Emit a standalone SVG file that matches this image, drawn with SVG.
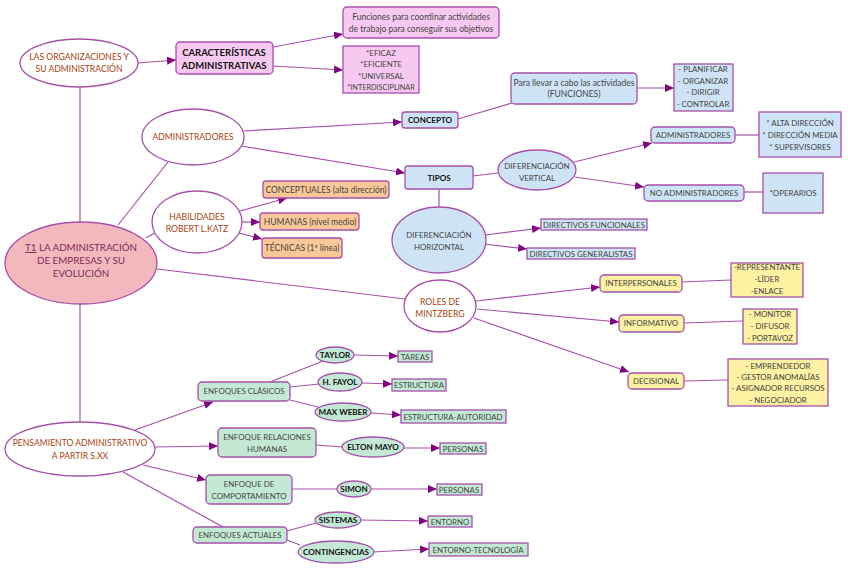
<svg xmlns="http://www.w3.org/2000/svg" width="848" height="575" viewBox="0 0 848 575">
<defs>
<marker id="ah" markerUnits="userSpaceOnUse" markerWidth="9" markerHeight="8" refX="9" refY="4" orient="auto">
<path d="M0,0 L9,4 L0,8 z" fill="#80067f"/>
</marker>
<style>
.ln{stroke:#a650aa;stroke-width:1.2;fill:none}
.ar{marker-end:url(#ah)}
.nb{stroke:#a650aa;stroke-width:1.3}
.pink{fill:#f8c9f0}.blue{fill:#cfe3f6}.org{fill:#fac898}.yel{fill:#fdf1a3}.grn{fill:#c3e9d5}.wht{fill:#fff}.t1f{fill:#f3b8bd}
text{font-family:Lato,"Open Sans","Liberation Sans",sans-serif;font-size:7.9px;fill:#444;text-anchor:middle}
.lc{font-size:8.5px}
.sm{font-size:7.3px}
.br{fill:#a8420f;font-size:8.6px}
.bd{font-weight:bold;fill:#111;font-size:8.1px}
.big{font-weight:bold;fill:#111;font-size:9.5px}
.t1t{fill:#7b2d5b;font-size:9.8px}
</style>
</defs>
<rect width="848" height="575" fill="#fff"/>
<g id="connectors">
<path class="ln ar" d="M138,63 L176,60"/>
<path class="ln ar" d="M273,47 L343,34"/>
<path class="ln ar" d="M273,66 L343,70"/>
<path class="ln" d="M80,87 L80,222"/>
<path class="ln" d="M80,304 L80,422"/>
<path class="ln" d="M118,225 L168,162"/>
<path class="ln" d="M146,238 L155,233"/>
<path class="ln" d="M157,269 L405,299"/>
<path class="ln ar" d="M244,131 L402,122"/>
<path class="ln ar" d="M241,146 L405,173"/>
<path class="ln ar" d="M240,211 L287,198"/>
<path class="ln ar" d="M242,222 L260,222"/>
<path class="ln ar" d="M239,233 L262,239"/>
<path class="ln" d="M458,119 L512,103"/>
<path class="ln ar" d="M637,88 L674,88"/>
<path class="ln" d="M473,176 L498,173"/>
<path class="ln" d="M439,189 L439,207"/>
<path class="ln ar" d="M574,162 L652,143"/>
<path class="ln ar" d="M575,177 L644,187"/>
<path class="ln" d="M735,135 L759,135"/>
<path class="ln" d="M744,192 L763,192"/>
<path class="ln ar" d="M485,235 L541,228"/>
<path class="ln ar" d="M484,244 L527,249"/>
<path class="ln ar" d="M476,301 L600,287"/>
<path class="ln ar" d="M477,309 L619,322"/>
<path class="ln ar" d="M474,318 L629,372"/>
<path class="ln" d="M682,282 L731,280"/>
<path class="ln" d="M684,323 L743,321"/>
<path class="ln" d="M684,381 L728,380"/>
<path class="ln ar" d="M135,430 L213,402"/>
<path class="ln ar" d="M155,447 L218,446"/>
<path class="ln ar" d="M143,465 L206,480"/>
<path class="ln" d="M123,472 L223,527"/>
<path class="ln" d="M270,382 L323,361"/>
<path class="ln" d="M290,387 L319,384"/>
<path class="ln" d="M290,400 L318,407"/>
<path class="ln ar" d="M354,355 L398,356"/>
<path class="ln ar" d="M362,383 L392,384"/>
<path class="ln ar" d="M371,413 L401,415"/>
<path class="ln" d="M316,445 L342,447"/>
<path class="ln ar" d="M404,448 L440,448"/>
<path class="ln" d="M292,489 L337,489"/>
<path class="ln ar" d="M371,489 L437,489"/>
<path class="ln" d="M287,531 L316,523"/>
<path class="ln" d="M287,540 L300,545"/>
<path class="ln ar" d="M361,520 L428,521"/>
<path class="ln ar" d="M373,552 L429,549"/>
</g>
<g id="n-organizaciones"><ellipse class="nb wht" cx="79" cy="63" rx="59" ry="24"/><text class="br" x="79" y="60">LAS ORGANIZACIONES Y</text><text class="br" x="79" y="72">SU ADMINISTRACIÓN</text></g>
<g id="n-caracteristicas"><rect class="nb pink" x="176" y="42" width="97" height="32" rx="4"/><text class="big" x="224" y="56">CARACTERÍSTICAS</text><text class="big" x="224" y="69">ADMINISTRATIVAS</text></g>
<g id="n-funciones"><rect class="nb pink" x="343" y="7" width="156" height="31" rx="4"/><text class="lc" x="421" y="20">Funciones para coordinar actividades</text><text class="lc" x="421" y="32">de trabajo para conseguir sus objetivos</text></g>
<g id="n-eficaz"><rect class="nb pink" x="343" y="46" width="76" height="47"/><text x="381" y="56">*EFICAZ</text><text x="381" y="67">*EFICIENTE</text><text x="381" y="79">*UNIVERSAL</text><text class="sm" x="381" y="90">*INTERDISCIPLINAR</text></g>
<g id="n-t1"><ellipse class="nb t1f" cx="81" cy="263" rx="76" ry="41"/><text class="t1t" x="81" y="251"><tspan text-decoration="underline">T1</tspan> LA ADMINISTRACIÓN</text><text class="t1t" x="81" y="264">DE EMPRESAS Y SU</text><text class="t1t" x="81" y="277">EVOLUCIÓN</text></g>
<g id="n-administradores"><ellipse class="nb wht" cx="193" cy="137" rx="51" ry="28"/><text class="br" x="193" y="140">ADMINISTRADORES</text></g>
<g id="n-habilidades"><ellipse class="nb wht" cx="197" cy="222" rx="45" ry="31"/><text class="br" x="197" y="220">HABILIDADES</text><text class="br" x="197" y="232">ROBERT L.KATZ</text></g>
<g id="n-conceptuales"><rect class="nb org" x="263" y="181" width="126" height="17" rx="3"/><text class="lc" x="326" y="193">CONCEPTUALES (alta dirección)</text></g>
<g id="n-humanas"><rect class="nb org" x="260" y="213" width="99" height="17" rx="3"/><text class="lc" x="310" y="225">HUMANAS (nivel medio)</text></g>
<g id="n-tecnicas"><rect class="nb org" x="262" y="238" width="80" height="20" rx="3"/><text class="lc" x="302" y="251">TÉCNICAS (1ª línea)</text></g>
<g id="n-concepto"><rect class="nb blue" x="402" y="112" width="56" height="16" rx="3"/><text class="bd" x="430" y="123">CONCEPTO</text></g>
<g id="n-tipos"><rect class="nb blue" x="405" y="166" width="68" height="23" rx="3"/><text class="bd" x="439" y="181">TIPOS</text></g>
<g id="n-parallevar"><rect class="nb blue" x="511" y="73" width="126" height="31" rx="4"/><text class="lc" x="574" y="86">Para llevar a cabo las actividades</text><text class="lc" x="574" y="97">(FUNCIONES)</text></g>
<g id="n-planificar"><rect class="nb blue" x="674" y="64" width="59" height="47"/><text x="703" y="72">- PLANIFICAR</text><text x="703" y="84">- ORGANIZAR</text><text x="703" y="95">- DIRIGIR</text><text x="703" y="107">- CONTROLAR</text></g>
<g id="n-difvertical"><ellipse class="nb blue" cx="537" cy="170" rx="39" ry="20"/><text x="537" y="169">DIFERENCIACIÓN</text><text x="537" y="181">VERTICAL</text></g>
<g id="n-admin2"><rect class="nb blue" x="651" y="127" width="84" height="16" rx="4"/><text x="693" y="138">ADMINISTRADORES</text></g>
<g id="n-alta"><rect class="nb blue" x="759" y="112" width="82" height="45"/><text x="800" y="126">* ALTA DIRECCIÓN</text><text x="800" y="138">* DIRECCIÓN MEDIA</text><text x="800" y="150">* SUPERVISORES</text></g>
<g id="n-noadmin"><rect class="nb blue" x="644" y="185" width="100" height="16" rx="4"/><text x="694" y="196">NO ADMINISTRADORES</text></g>
<g id="n-operarios"><rect class="nb blue" x="763" y="173" width="60" height="40"/><text x="793" y="196">*OPERARIOS</text></g>
<g id="n-difhorizontal"><ellipse class="nb blue" cx="439" cy="240" rx="47" ry="33"/><text x="439" y="238">DIFERENCIACIÓN</text><text x="439" y="250">HORIZONTAL</text></g>
<g id="n-dirfunc"><rect class="nb blue" x="541" y="219" width="106" height="11"/><text x="594" y="227.5">DIRECTIVOS FUNCIONALES</text></g>
<g id="n-dirgen"><rect class="nb blue" x="527" y="248" width="108" height="11"/><text x="581" y="256.5">DIRECTIVOS GENERALISTAS</text></g>
<g id="n-roles"><ellipse class="nb wht" cx="440" cy="306" rx="36" ry="26"/><text class="br" x="440" y="305">ROLES DE</text><text class="br" x="440" y="317">MINTZBERG</text></g>
<g id="n-interpersonales"><rect class="nb yel" x="600" y="275" width="82" height="17" rx="4"/><text x="641" y="286">INTERPERSONALES</text></g>
<g id="n-representante"><rect class="nb yel" x="731" y="263" width="72" height="34"/><text x="767" y="270">-REPRESENTANTE</text><text x="767" y="282">-LÍDER</text><text x="767" y="294">-ENLACE</text></g>
<g id="n-informativo"><rect class="nb yel" x="619" y="315" width="65" height="17" rx="4"/><text x="651" y="326">INFORMATIVO</text></g>
<g id="n-monitor"><rect class="nb yel" x="743" y="309" width="54" height="35"/><text x="770" y="317">- MONITOR</text><text x="770" y="329">- DIFUSOR</text><text x="770" y="341">- PORTAVOZ</text></g>
<g id="n-decisional"><rect class="nb yel" x="628" y="373" width="56" height="16" rx="4"/><text x="656" y="384">DECISIONAL</text></g>
<g id="n-emprendedor"><rect class="nb yel" x="728" y="359" width="100" height="47"/><text x="778" y="369">- EMPRENDEDOR</text><text x="778" y="380">- GESTOR ANOMALÍAS</text><text x="778" y="391">- ASIGNADOR RECURSOS</text><text x="778" y="403">- NEGOCIADOR</text></g>
<g id="n-pensamiento"><ellipse class="nb wht" cx="80" cy="449" rx="75" ry="27"/><text class="br" x="80" y="446">PENSAMIENTO ADMINISTRATIVO</text><text class="br" x="80" y="459">A PARTIR S.XX</text></g>
<g id="n-clasicos"><rect class="nb grn" x="198" y="382" width="92" height="19" rx="4"/><text x="244" y="394">ENFOQUES CLÁSICOS</text></g>
<g id="n-taylor"><ellipse class="nb grn" cx="335" cy="355" rx="19" ry="8"/><text class="bd" x="335" y="358">TAYLOR</text></g>
<g id="n-tareas"><rect class="nb grn" x="398" y="351" width="34" height="11"/><text x="415" y="359.5">TAREAS</text></g>
<g id="n-fayol"><ellipse class="nb grn" cx="340" cy="382" rx="22" ry="9"/><text class="bd" x="340" y="385">H. FAYOL</text></g>
<g id="n-estructura"><rect class="nb grn" x="392" y="379" width="54" height="12"/><text x="419" y="388">ESTRUCTURA</text></g>
<g id="n-weber"><ellipse class="nb grn" cx="343" cy="412" rx="28" ry="9"/><text class="bd" x="343" y="415">MAX WEBER</text></g>
<g id="n-estaut"><rect class="nb grn" x="401" y="410" width="105" height="13"/><text x="453" y="419.5">ESTRUCTURA-AUTORIDAD</text></g>
<g id="n-relaciones"><rect class="nb grn" x="218" y="428" width="98" height="29" rx="4"/><text x="267" y="440">ENFOQUE RELACIONES</text><text x="267" y="452">HUMANAS</text></g>
<g id="n-elton"><ellipse class="nb grn" cx="373" cy="447" rx="31" ry="10"/><text class="bd" x="373" y="450">ELTON MAYO</text></g>
<g id="n-personas1"><rect class="nb grn" x="440" y="443" width="46" height="11"/><text x="463" y="451.5">PERSONAS</text></g>
<g id="n-comportamiento"><rect class="nb grn" x="206" y="475" width="86" height="29" rx="4"/><text x="249" y="487">ENFOQUE DE</text><text x="249" y="499">COMPORTAMIENTO</text></g>
<g id="n-simon"><ellipse class="nb grn" cx="354" cy="489" rx="17" ry="8"/><text class="bd" x="354" y="492">SIMON</text></g>
<g id="n-personas2"><rect class="nb grn" x="437" y="484" width="45" height="11"/><text x="459" y="492.5">PERSONAS</text></g>
<g id="n-actuales"><rect class="nb grn" x="193" y="527" width="94" height="16" rx="4"/><text x="240" y="538">ENFOQUES ACTUALES</text></g>
<g id="n-sistemas"><ellipse class="nb grn" cx="338" cy="520" rx="23" ry="8"/><text class="bd" x="338" y="523">SISTEMAS</text></g>
<g id="n-entorno"><rect class="nb grn" x="428" y="516" width="44" height="11"/><text x="450" y="524.5">ENTORNO</text></g>
<g id="n-contingencias"><ellipse class="nb grn" cx="336" cy="552" rx="38" ry="11"/><text class="bd" x="336" y="555">CONTINGENCIAS</text></g>
<g id="n-entornotec"><rect class="nb grn" x="429" y="543" width="99" height="13"/><text x="478" y="552.5">ENTORNO-TECNOLOGÍA</text></g>
</svg>
